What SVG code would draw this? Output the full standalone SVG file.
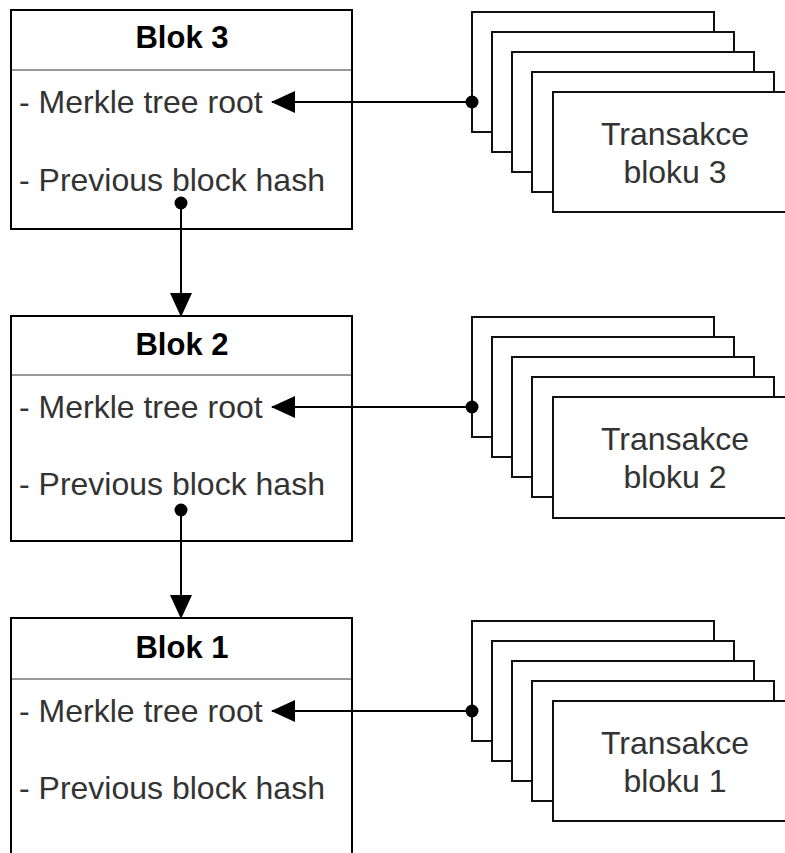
<svg xmlns="http://www.w3.org/2000/svg" width="785" height="853" viewBox="0 0 785 853">
<style>
.box{fill:#fff;stroke:#000;stroke-width:2}
.div{stroke:#999;stroke-width:2}
.title{font-family:"Liberation Sans",Arial,sans-serif;font-weight:bold;font-size:31px;fill:#000;text-anchor:middle}
.row{font-family:"Liberation Sans",Arial,sans-serif;font-size:32px;fill:#333}
.tx{font-family:"Liberation Sans",Arial,sans-serif;font-size:32px;fill:#333;text-anchor:middle}
.pg{fill:#fff;stroke:#111;stroke-width:2}
.conn{stroke:#000;stroke-width:2;fill:none;marker-start:url(#dot);marker-end:url(#arr)}
</style>
<defs>
<marker id="arr" markerUnits="userSpaceOnUse" viewBox="0 0 24 24" markerWidth="24" markerHeight="24" refX="23" refY="12" orient="auto"><path d="M0,1 L24,12 L0,23 z" fill="#000"/></marker>
<marker id="dot" markerUnits="userSpaceOnUse" viewBox="0 0 14 14" markerWidth="14" markerHeight="14" refX="7" refY="7" orient="auto"><circle cx="7" cy="7" r="6.5" fill="#000"/></marker>
</defs>
<rect width="785" height="853" fill="#fff"/>

<g id="block3">
<rect class="box" x="11" y="10" width="341" height="219"/>
<line class="div" x1="12" y1="70" x2="351" y2="70"/>
<text class="title" x="182" y="48">Blok 3</text>
<text class="row" x="19" y="113">- Merkle tree root</text>
<text class="row" x="19" y="191">- Previous block hash</text>
</g>
<g id="block2">
<rect class="box" x="11" y="316" width="341" height="225"/>
<line class="div" x1="12" y1="375" x2="351" y2="375"/>
<text class="title" x="182" y="355">Blok 2</text>
<text class="row" x="19" y="418">- Merkle tree root</text>
<text class="row" x="19" y="495">- Previous block hash</text>
</g>
<g id="block1">
<rect class="box" x="11" y="618" width="341" height="260"/>
<line class="div" x1="12" y1="679" x2="351" y2="679"/>
<text class="title" x="182" y="658">Blok 1</text>
<text class="row" x="19" y="722">- Merkle tree root</text>
<text class="row" x="19" y="799">- Previous block hash</text>
</g>

<g id="tx3">
<rect class="pg" x="472" y="12" width="242" height="120"/>
<rect class="pg" x="492" y="32" width="242" height="120"/>
<rect class="pg" x="512" y="52" width="242" height="120"/>
<rect class="pg" x="532" y="72" width="242" height="120"/>
<rect class="pg" x="553" y="92" width="242" height="120"/>
<text class="tx" x="675" y="145">Transakce</text>
<text class="tx" x="675" y="183">bloku 3</text>
</g>
<g id="tx2">
<rect class="pg" x="472" y="317" width="242" height="120"/>
<rect class="pg" x="492" y="337" width="242" height="120"/>
<rect class="pg" x="512" y="357" width="242" height="120"/>
<rect class="pg" x="532" y="377" width="242" height="120"/>
<rect class="pg" x="553" y="397" width="242" height="121"/>
<text class="tx" x="675" y="450">Transakce</text>
<text class="tx" x="675" y="488">bloku 2</text>
</g>
<g id="tx1">
<rect class="pg" x="472" y="621" width="242" height="120"/>
<rect class="pg" x="492" y="641" width="242" height="120"/>
<rect class="pg" x="512" y="661" width="242" height="120"/>
<rect class="pg" x="532" y="681" width="242" height="120"/>
<rect class="pg" x="553" y="701" width="242" height="120"/>
<text class="tx" x="675" y="754">Transakce</text>
<text class="tx" x="675" y="792">bloku 1</text>
</g>

<g id="connectors">
<path class="conn" d="M472,102 L272,102"/>
<path class="conn" d="M472,407 L272,407"/>
<path class="conn" d="M472,711 L272,711"/>
<path class="conn" d="M181,203 L181,316"/>
<path class="conn" d="M181,510 L181,618"/>
</g>
</svg>
